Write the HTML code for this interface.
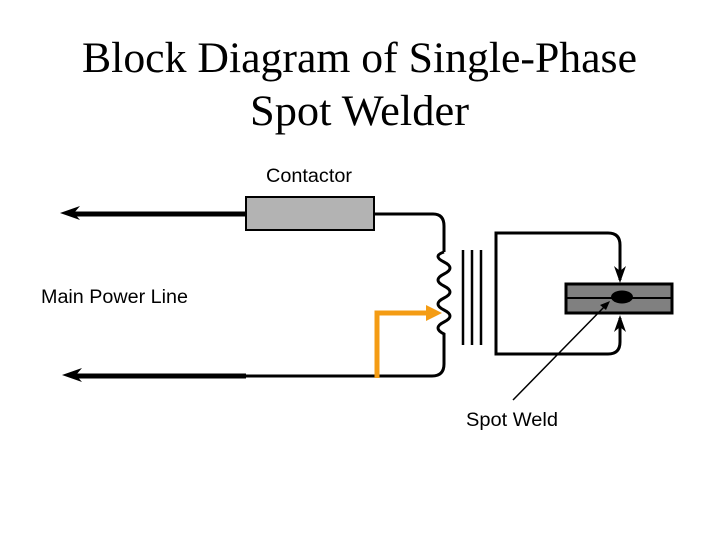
<!DOCTYPE html>
<html><head><style>html,body{margin:0;padding:0;background:#fff}svg{display:block}</style></head>
<body>
<svg width="720" height="540" viewBox="0 0 720 540" xmlns="http://www.w3.org/2000/svg">
<text x="82" y="72" textLength="555" lengthAdjust="spacingAndGlyphs" font-family="Liberation Serif, serif" font-size="43">Block Diagram of Single-Phase</text>
<text x="250" y="125" textLength="219" lengthAdjust="spacingAndGlyphs" font-family="Liberation Serif, serif" font-size="43">Spot Welder</text>
<text x="266" y="182" textLength="86" lengthAdjust="spacingAndGlyphs" font-family="Liberation Sans, sans-serif" font-size="19">Contactor</text>
<text x="41" y="303" textLength="147" lengthAdjust="spacingAndGlyphs" font-family="Liberation Sans, sans-serif" font-size="19">Main Power Line</text>
<text x="466" y="426" textLength="92" lengthAdjust="spacingAndGlyphs" font-family="Liberation Sans, sans-serif" font-size="19">Spot Weld</text>
<!-- top wire -->
<line x1="72" y1="214" x2="246" y2="214" stroke="#000" stroke-width="5"/>
<polygon points="60,213 80,206 74,213 80,220" fill="#000"/>
<rect x="246" y="197" width="128" height="33" fill="#b3b3b3" stroke="#000" stroke-width="2"/>
<path d="M374,214 H433 Q444,214 444,226 V252" fill="none" stroke="#000" stroke-width="3"/>
<!-- coil -->
<path d="M444,252 Q432,256 444,262 Q456,268 444,274 Q432,280 444,286 Q456,292 444,298 Q432,304 444,310 Q456,316 444,322 Q432,328 444,334 V364 Q444,376 432,376 H246" fill="none" stroke="#000" stroke-width="3"/>
<line x1="72" y1="376" x2="246" y2="376" stroke="#000" stroke-width="5"/>
<polygon points="62,375 82,368 76,375 82,382" fill="#000"/>
<!-- core -->
<line x1="463" y1="250" x2="463" y2="345" stroke="#000" stroke-width="2.5"/>
<line x1="472" y1="250" x2="472" y2="345" stroke="#000" stroke-width="2.5"/>
<line x1="481" y1="250" x2="481" y2="345" stroke="#000" stroke-width="2.5"/>
<!-- secondary -->
<path d="M608,233 H496 V354 H608 Q620,354 620,342 V318" fill="none" stroke="#000" stroke-width="3"/>
<path d="M608,233 Q620,233 620,245 V280" fill="none" stroke="#000" stroke-width="3"/>
<polygon points="620,283 614,266 620,271 626,266" fill="#000"/>
<polygon points="620,315 614,332 620,327 626,332" fill="#000"/>
<!-- workpiece -->
<rect x="566" y="284" width="106" height="29" fill="#808080" stroke="#000" stroke-width="3"/>
<line x1="566" y1="298" x2="672" y2="298" stroke="#000" stroke-width="2"/>
<ellipse cx="622" cy="297" rx="11" ry="6.5" fill="#000"/>
<!-- orange tap -->
<path d="M377,378 V313 H430" fill="none" stroke="#f49c14" stroke-width="5"/>
<polygon points="442,313 426,305 426,321" fill="#f49c14"/>
<!-- leader -->
<line x1="513" y1="400" x2="607" y2="304" stroke="#000" stroke-width="1.5"/>
<polygon points="610,301 600,305 606,310" fill="#000"/>
</svg>
</body></html>
